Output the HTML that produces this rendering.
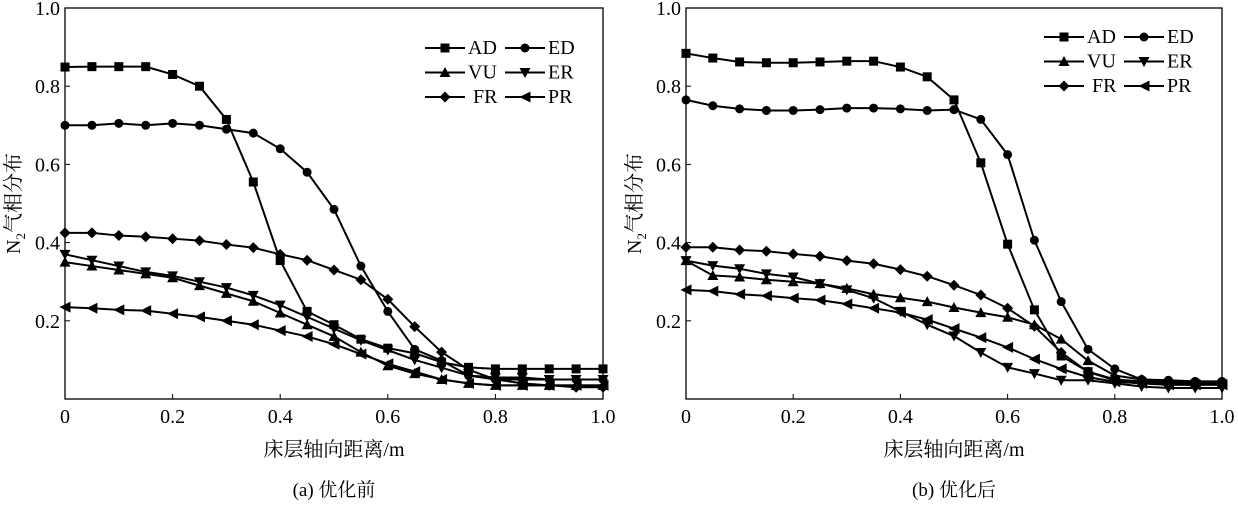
<!DOCTYPE html>
<html><head><meta charset="utf-8"><style>
body{margin:0;background:#fff;width:1238px;height:501px;overflow:hidden}
svg text{font-family:"Liberation Serif","Noto Serif CJK SC",serif;fill:#000}
</style></head><body>
<svg id="c" width="1238" height="501"></svg>
<script>
const xs=[0,0.05,0.1,0.15,0.2,0.25,0.3,0.35,0.4,0.45,0.5,0.55,0.6,0.65,0.7,0.75,0.8,0.85,0.9,0.95,1.0];
const seriesNames=["AD","ED","VU","ER","FR","PR"];
const markers=["square","circle","up","down","diamond","left"];
const xTicks=["0","0.2","0.4","0.6","0.8","1.0"];
const yTicks=["0.2","0.4","0.6","0.8","1.0"];
const leftAD=[0.849,0.85,0.85,0.85,0.83,0.80,0.715,0.555,0.354,0.224,0.19,0.153,0.13,0.117,0.094,0.081,0.077,0.077,0.077,0.077,0.077];
const leftED=[0.70,0.70,0.705,0.70,0.705,0.70,0.69,0.68,0.64,0.58,0.485,0.34,0.224,0.127,0.098,0.06,0.05,0.05,0.05,0.05,0.05];
const leftVU=[0.35,0.34,0.33,0.32,0.31,0.29,0.27,0.25,0.22,0.19,0.16,0.12,0.085,0.065,0.05,0.04,0.035,0.035,0.035,0.035,0.035];
const leftER=[0.37,0.355,0.34,0.325,0.315,0.30,0.285,0.265,0.24,0.21,0.18,0.15,0.125,0.10,0.08,0.06,0.055,0.055,0.05,0.05,0.05];
const leftFR=[0.425,0.425,0.418,0.415,0.41,0.405,0.395,0.387,0.37,0.355,0.33,0.305,0.255,0.185,0.12,0.075,0.05,0.04,0.035,0.03,0.03];
const leftPR=[0.235,0.232,0.228,0.226,0.218,0.21,0.2,0.19,0.175,0.16,0.14,0.115,0.09,0.07,0.05,0.04,0.035,0.035,0.035,0.035,0.035];
const rightAD=[0.884,0.872,0.862,0.86,0.86,0.862,0.864,0.864,0.849,0.824,0.765,0.604,0.396,0.228,0.11,0.07,0.05,0.045,0.04,0.04,0.04];
const rightED=[0.765,0.75,0.742,0.738,0.738,0.74,0.744,0.744,0.742,0.738,0.74,0.715,0.625,0.406,0.249,0.127,0.077,0.05,0.048,0.045,0.045];
const rightVU=[0.354,0.316,0.312,0.305,0.3,0.295,0.283,0.268,0.259,0.249,0.234,0.221,0.209,0.19,0.153,0.098,0.06,0.05,0.045,0.04,0.04];
const rightER=[0.354,0.341,0.333,0.32,0.312,0.295,0.279,0.258,0.224,0.19,0.161,0.119,0.081,0.065,0.048,0.048,0.04,0.032,0.028,0.028,0.028];
const rightFR=[0.388,0.388,0.381,0.378,0.371,0.365,0.354,0.346,0.331,0.314,0.291,0.266,0.232,0.186,0.119,0.069,0.048,0.045,0.04,0.04,0.04];
const rightPR=[0.279,0.276,0.268,0.264,0.258,0.253,0.243,0.232,0.221,0.203,0.18,0.157,0.132,0.102,0.077,0.056,0.044,0.04,0.036,0.036,0.036];

const NS="http://www.w3.org/2000/svg";
const svg=document.getElementById('c');
function mk(tag,attrs,parent){const e=document.createElementNS(NS,tag);for(const k in attrs)e.setAttribute(k,attrs[k]);(parent||svg).appendChild(e);return e;}
function marker(g,type,cx,cy){
  const s=4.5;let e;
  if(type==="square")e=mk('rect',{x:cx-s,y:cy-s,width:2*s,height:2*s},g);
  else if(type==="circle")e=mk('circle',{cx:cx,cy:cy,r:s},g);
  else if(type==="up")e=mk('polygon',{points:`${cx},${cy-s-1} ${cx-s-1},${cy+s} ${cx+s+1},${cy+s}`},g);
  else if(type==="down")e=mk('polygon',{points:`${cx},${cy+s+1} ${cx-s-1},${cy-s} ${cx+s+1},${cy-s}`},g);
  else if(type==="diamond")e=mk('polygon',{points:`${cx},${cy-s-1} ${cx+s+1},${cy} ${cx},${cy+s+1} ${cx-s-1},${cy}`},g);
  else e=mk('polygon',{points:`${cx-s-1},${cy} ${cx+s+1},${cy-s-1} ${cx+s+1},${cy+s+1}`},g);
  e.setAttribute('fill','#000');
  return e;
}
function panel(id,L,R,T,B,data,caption,legX,legY){
  const g=mk('g',{});
  
  
  const sx=v=>L+v*(R-L), sy=v=>B-v*(B-T);
  const f=mk('rect',{x:L,y:T,width:R-L,height:B-T,fill:'none',stroke:'#000','stroke-width':1.3},g);
  
  
  xTicks.forEach(t=>{const v=parseFloat(t);const x=sx(v);
    mk('line',{x1:x,x2:x,y1:B,y2:B-5,stroke:'#000'},g);
    const tx=mk('text',{x:x,y:B+24,'text-anchor':'middle','font-size':20},g);tx.textContent=t;
    
    });
  yTicks.forEach(t=>{const v=parseFloat(t);const y=sy(v);
    mk('line',{x1:L,x2:L+5,y1:y,y2:y,stroke:'#000'},g);
    const tx=mk('text',{x:L-5,y:y+7,'text-anchor':'end','font-size':20},g);tx.textContent=t;
    
    });
  const yt=mk('text',{transform:`translate(${L-45},${(T+B)/2}) rotate(-90)`,'text-anchor':'middle','font-size':20},g);
  yt.innerHTML='N<tspan font-size="13" dy="5">2</tspan><tspan dy="-5">气相分布</tspan>';
  
  
  const xt=mk('text',{x:(L+R)/2,y:B+57,'text-anchor':'middle','font-size':20},g);xt.textContent='床层轴向距离/m';
  
  
  const cp=mk('text',{x:(L+R)/2,y:B+97,'text-anchor':'middle','font-size':19},g);cp.textContent=caption;
  
  
  data.forEach((vals,i)=>{
    const sg=mk('g',{},g);
    
    
    mk('polyline',{points:vals.map((v,j)=>sx(xs[j])+','+sy(v)).join(' '),fill:'none',stroke:'#000','stroke-width':2},sg);
    vals.forEach((v,j)=>{const m=marker(sg,markers[i],sx(xs[j]),sy(v));
      
      });
  });
  const lg=mk('g',{},g);
  
  
  seriesNames.forEach((n,i)=>{
    const col=i%2,row=Math.floor(i/2);
    const x0=legX+col*80,y0=legY+row*24.5;
    const eg=mk('g',{},lg);
    
    
    mk('line',{x1:x0,x2:x0+40,y1:y0,y2:y0,stroke:'#000','stroke-width':2},eg);
    marker(eg,markers[i],x0+20,y0);
    const t=mk('text',{x:x0+(row==2&&col==0?48:43),y:y0+6,'font-size':20},eg);t.textContent=n;
  });
}
panel('left',65,603,8,399,[leftAD,leftED,leftVU,leftER,leftFR,leftPR],'(a) 优化前',425,48);
panel('right',686,1222,8,399,[rightAD,rightED,rightVU,rightER,rightFR,rightPR],'(b) 优化后',1044,37);
</script>
</body></html>
